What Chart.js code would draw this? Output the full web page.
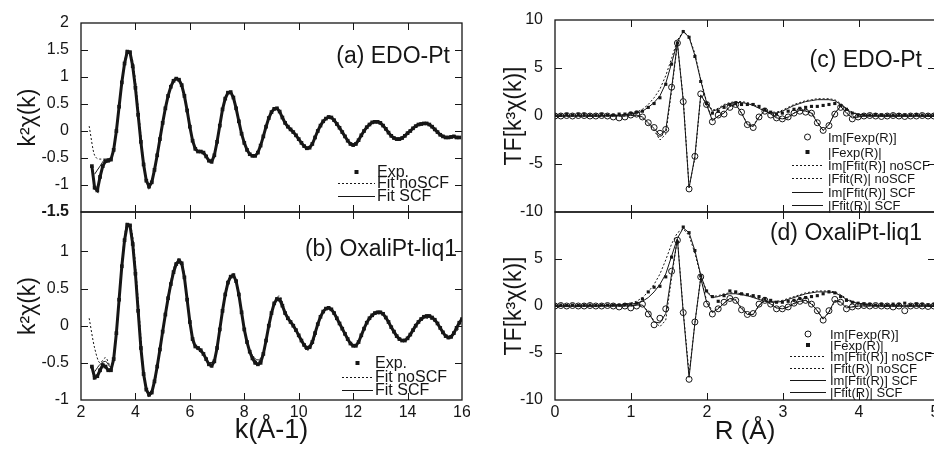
<!DOCTYPE html>
<html>
<head>
<meta charset="utf-8">
<title>EXAFS spectra and Fourier transforms</title>
<script src="https://cdn.jsdelivr.net/npm/chart.js@4.4.1/dist/chart.umd.min.js"></script>
<style>
  html, body { margin: 0; padding: 0; background: #fff; }
  body { position: relative; width: 934px; height: 449px; overflow: hidden; }
  canvas { position: absolute; top: 0; }
  #chartA, #chartB { left: 0; }
  #chartC, #chartD { left: 470px; }
</style>
</head>
<body>
<canvas id="chartA" width="470" height="449"></canvas>
<canvas id="chartB" width="470" height="449"></canvas>
<canvas id="chartC" width="470" height="449"></canvas>
<canvas id="chartD" width="470" height="449"></canvas>
<script>
// ─── Sampling grids ─────────────────────────────────────────────────────────
const K_EXP_START = 2.4, K_EXP_STEP = 0.1;
const K_FIT_START = 2.3, K_FIT_STEP = 0.2;
const R_START = 0,       R_STEP = 0.0767;

// ─── Tick values ────────────────────────────────────────────────────────────
const K_TICKS   = [2, 4, 6, 8, 10, 12, 14, 16];
const R_TICKS   = [0, 1, 2, 3, 4, 5];
const Y_TICKS_A = [-1.5, -1, -0.5, 0, 0.5, 1, 1.5, 2];
const Y_TICKS_B = [-1, -0.5, 0, 0.5, 1];
const Y_TICKS_C = [-10, -5, 0, 5, 10];
const Y_TICKS_D = [-10, -5, 0, 5];

// ─── (a) EDO-Pt, k-space ────────────────────────────────────────────────────
const EXP_A = [
  -0.65, -1.05, -1.1, -0.85, -0.65, -0.56, -0.55, -0.53, -0.35, 0.0,
  0.45, 0.9, 1.25, 1.47, 1.46, 1.2, 0.8, 0.3, -0.2, -0.62,
  -0.92, -1.03, -0.95, -0.72, -0.45, -0.15, 0.15, 0.42, 0.65, 0.82,
  0.93, 0.97, 0.95, 0.85, 0.65, 0.38, 0.08, -0.18, -0.33, -0.38,
  -0.38, -0.4, -0.47, -0.55, -0.57, -0.45, -0.2, 0.1, 0.4, 0.6,
  0.71, 0.72, 0.62, 0.42, 0.18, -0.05, -0.22, -0.35, -0.43, -0.46,
  -0.46, -0.4, -0.27, -0.1, 0.08, 0.24, 0.35, 0.41, 0.42, 0.36,
  0.25, 0.15, 0.08, 0.03, -0.02, -0.08, -0.15, -0.22, -0.28, -0.32,
  -0.31, -0.24, -0.12, 0.0, 0.1, 0.18, 0.23, 0.26, 0.25, 0.2,
  0.13, 0.06, -0.02, -0.1, -0.18, -0.24, -0.26, -0.24, -0.17, -0.08,
  0.0, 0.07, 0.12, 0.16, 0.17, 0.17, 0.15, 0.1, 0.04, -0.03,
  -0.09, -0.13, -0.15, -0.15, -0.13, -0.09, -0.04, 0.0, 0.05, 0.09,
  0.12, 0.13, 0.14, 0.14, 0.12, 0.08, 0.03, -0.02, -0.07, -0.1,
  -0.12, -0.12, -0.11, -0.1, -0.12, -0.12
];
const NOSCF_A = [
  0.09, -0.45, -0.52, -0.52, -0.5, 0.0, 0.85, 1.45, 1.3, 0.45,
  -0.55, -1.02, -0.75, -0.15, 0.42, 0.82, 0.97, 0.86, 0.4, -0.15,
  -0.37, -0.42, -0.55, -0.45, 0.1, 0.6, 0.72, 0.44, -0.03, -0.34,
  -0.46, -0.4, -0.1, 0.24, 0.41, 0.36, 0.15, 0.03, -0.08, -0.22,
  -0.33, -0.25, 0.0, 0.18, 0.26, 0.2, 0.06, -0.1, -0.24, -0.25,
  -0.09, 0.07, 0.16, 0.17, 0.1, -0.03, -0.13, -0.16, -0.1, 0.0,
  0.09, 0.13, 0.13, 0.08, -0.02, -0.1, -0.12, -0.1, -0.13
];
const SCF_A = [
  null, -0.8, -0.65, -0.52, -0.5, 0.0, 0.88, 1.47, 1.22, 0.32,
  -0.6, -1.02, -0.72, -0.15, 0.42, 0.82, 0.97, 0.85, 0.38, -0.17,
  -0.38, -0.41, -0.55, -0.44, 0.1, 0.6, 0.72, 0.42, -0.05, -0.35,
  -0.46, -0.4, -0.1, 0.24, 0.41, 0.36, 0.15, 0.03, -0.08, -0.22,
  -0.32, -0.24, 0.0, 0.18, 0.26, 0.2, 0.06, -0.1, -0.24, -0.24,
  -0.08, 0.07, 0.16, 0.17, 0.1, -0.03, -0.13, -0.15, -0.09, 0.0,
  0.09, 0.13, 0.14, 0.08, -0.02, -0.1, -0.12, -0.1, -0.12
];

// ─── (b) OxaliPt-liq1, k-space ──────────────────────────────────────────────
const EXP_B = [
  -0.55, -0.7, -0.68, -0.6, -0.53, -0.55, -0.6, -0.6, -0.45, -0.1,
  0.35, 0.8, 1.15, 1.36, 1.35, 1.1, 0.7, 0.2, -0.3, -0.65,
  -0.86, -0.93, -0.9, -0.75, -0.55, -0.32, -0.08, 0.15, 0.37, 0.56,
  0.72, 0.83, 0.88, 0.84, 0.65, 0.35, 0.05, -0.18, -0.28, -0.3,
  -0.33, -0.38, -0.45, -0.52, -0.54, -0.48, -0.3, -0.05, 0.2, 0.42,
  0.58, 0.66, 0.68, 0.6, 0.42, 0.18, -0.05, -0.22, -0.35, -0.44,
  -0.5, -0.52, -0.5, -0.38, -0.2, 0.0, 0.17, 0.3, 0.36, 0.35,
  0.27, 0.17, 0.1, 0.05, 0.0, -0.06, -0.13, -0.2, -0.26, -0.3,
  -0.29, -0.22, -0.1, 0.02, 0.12, 0.19, 0.23, 0.24, 0.22, 0.17,
  0.1, 0.03, -0.04, -0.11, -0.18, -0.24, -0.27, -0.27, -0.22, -0.13,
  -0.04, 0.04, 0.1, 0.14, 0.17, 0.18, 0.18, 0.16, 0.11, 0.05,
  -0.02, -0.08, -0.14, -0.18, -0.2, -0.2, -0.17, -0.12, -0.06, 0.0,
  0.05, 0.09, 0.12, 0.13, 0.13, 0.11, 0.08, 0.03, -0.03, -0.09,
  -0.14, -0.16, -0.15, -0.1, -0.03, 0.04, 0.09
];
const NOSCF_B = [
  0.1, -0.3, -0.5, -0.43, -0.55, -0.1, 0.85, 1.37, 1.2, 0.35,
  -0.6, -0.92, -0.78, -0.35, 0.17, 0.6, 0.85, 0.85, 0.35, -0.2,
  -0.33, -0.38, -0.5, -0.45, -0.03, 0.44, 0.66, 0.6, 0.18, -0.22,
  -0.42, -0.48, -0.36, 0.02, 0.32, 0.4, 0.2, 0.06, -0.07, -0.22,
  -0.33, -0.26, 0.0, 0.18, 0.23, 0.16, 0.02, -0.12, -0.24, -0.26,
  -0.12, 0.04, 0.13, 0.16, 0.15, 0.04, -0.1, -0.19, -0.18, -0.1,
  0.02, 0.08, 0.1, 0.08, 0.02, -0.09, -0.14, -0.1, -0.04
];
const SCF_B = [
  null, -0.62, -0.52, -0.48, -0.56, -0.08, 0.82, 1.36, 1.12, 0.22,
  -0.65, -0.93, -0.76, -0.32, 0.16, 0.57, 0.84, 0.84, 0.36, -0.18,
  -0.31, -0.38, -0.5, -0.46, -0.05, 0.43, 0.66, 0.6, 0.18, -0.21,
  -0.4, -0.46, -0.36, 0.0, 0.3, 0.37, 0.18, 0.05, -0.06, -0.2,
  -0.31, -0.24, 0.01, 0.19, 0.24, 0.17, 0.03, -0.11, -0.24, -0.27,
  -0.13, 0.04, 0.14, 0.18, 0.16, 0.05, -0.08, -0.18, -0.2, -0.12,
  0.0, 0.09, 0.13, 0.11, 0.03, -0.09, -0.16, -0.1, 0.03
];

// ─── (c) EDO-Pt, R-space ────────────────────────────────────────────────────
const IM_EXP_C = [
  0.0, 0.0, 0.05, 0.0, 0.05, 0.05, 0.0, 0.0, 0.05, 0.0,
  -0.1, -0.2, -0.1, 0.1, 0.2, -0.1, -0.7, -1.2, -1.8, -1.4,
  3.0, 7.6, 1.5, -7.6, -4.2, 2.3, 1.2, -0.6, 0.1, 0.2,
  0.9, 1.2, 0.4, -0.9, -1.2, -0.1, 0.5, 0.1, -0.2, -0.3,
  -0.1, 0.3, 0.5, 0.4, 0.3, -0.7, -1.5, -1.0, 0.2, 0.9,
  0.3, -0.3, -0.1, 0.0, 0.05, 0.0, -0.05, 0.0, 0.05, 0.0,
  -0.05, 0.0, 0.0, 0.05, 0.0, 0.0
];
const ABS_EXP_C = [
  0.1, 0.1, 0.15, 0.1, 0.15, 0.15, 0.1, 0.1, 0.15, 0.1,
  0.1, 0.2, 0.2, 0.3, 0.4, 0.5, 0.9, 1.3, 1.9, 3.3,
  5.4, 7.6, 8.8, 8.2, 6.2, 3.6, 1.3, 0.3, 0.5, 0.9,
  1.2, 1.3, 1.2, 1.2, 1.2, 1.0, 0.7, 0.4, 0.2, 0.3,
  0.5, 0.7, 0.8, 0.9, 1.0, 1.0, 1.1, 1.2, 1.3, 1.1,
  0.7, 0.3, 0.1, 0.1, 0.1, 0.15, 0.1, 0.1, 0.1, 0.15,
  0.1, 0.1, 0.15, 0.1, 0.1, 0.1
];
const IM_NOSCF_C = [
  0, 0, 0, 0, 0, 0, 0, 0, 0, 0,
  0, 0, 0, 0.05, 0.1, -0.2, -0.8, -1.5, -2.5, -1.9,
  2.6, 7.5, 1.8, -7.4, -4.4, 2.1, 1.3, -0.4, 0.0, 0.3,
  1.0, 1.3, 0.3, -0.8, -1.0, -0.1, 0.6, 0.2, -0.1, -0.3,
  -0.2, 0.3, 0.6, 0.6, 0.4, -0.6, -1.5, -0.9, 0.3, 1.0,
  0.4, -0.2, -0.1, 0, 0, 0, 0, 0, 0, 0,
  0, 0, 0, 0, 0, 0
];
const ABS_NOSCF_C = [
  0, 0, 0, 0, 0, 0, 0, 0, 0, 0.05,
  0.05, 0.1, 0.15, 0.2, 0.4, 0.7, 1.2, 1.9, 2.8, 4.2,
  6.0, 7.9, 8.8, 8.3, 6.5, 3.8, 1.5, 0.6, 0.8, 1.2,
  1.4, 1.5, 1.5, 1.4, 1.2, 0.9, 0.6, 0.4, 0.4, 0.6,
  0.9, 1.2, 1.4, 1.6, 1.7, 1.8, 1.8, 1.8, 1.7, 1.3,
  0.8, 0.4, 0.2, 0.1, 0.05, 0, 0, 0, 0, 0,
  0, 0, 0, 0, 0, 0
];
const IM_SCF_C = [
  0, 0, 0, 0, 0, 0, 0, 0, 0, 0,
  0, 0, 0, 0.05, 0.1, -0.1, -0.7, -1.3, -2.0, -1.5,
  2.9, 7.6, 1.6, -7.5, -4.2, 2.2, 1.2, -0.5, 0.0, 0.3,
  1.0, 1.2, 0.3, -0.9, -1.1, -0.1, 0.6, 0.2, -0.2, -0.3,
  -0.1, 0.3, 0.6, 0.5, 0.3, -0.7, -1.5, -0.9, 0.3, 1.0,
  0.3, -0.2, -0.1, 0, 0, 0, 0, 0, 0, 0,
  0, 0, 0, 0, 0, 0
];
const ABS_SCF_C = [
  0, 0, 0, 0, 0, 0, 0, 0, 0, 0.05,
  0.05, 0.1, 0.15, 0.2, 0.3, 0.5, 0.9, 1.4, 2.1, 3.4,
  5.5, 7.7, 8.8, 8.2, 6.3, 3.7, 1.4, 0.5, 0.7, 1.1,
  1.3, 1.4, 1.4, 1.3, 1.1, 0.8, 0.5, 0.3, 0.3, 0.5,
  0.8, 1.1, 1.3, 1.5, 1.6, 1.7, 1.7, 1.7, 1.6, 1.2,
  0.7, 0.3, 0.2, 0.1, 0.05, 0, 0, 0, 0, 0,
  0, 0, 0, 0, 0, 0
];

// ─── (d) OxaliPt-liq1, R-space ──────────────────────────────────────────────
const IM_EXP_D = [
  0.0, 0.05, 0.0, 0.05, 0.0, 0.0, 0.05, 0.0, 0.0, 0.05,
  0.0, -0.1, 0.0, -0.2, 0.0, 0.2, -0.85, -2.0, -1.3, -0.3,
  3.7, 7.0, -0.7, -7.8, -1.7, 3.1, 0.2, -0.85, -0.3, 0.4,
  0.8, 0.6, -0.4, -0.9, -0.8, 0.2, 0.6, 0.2, -0.3, -0.3,
  -0.1, 0.3, 0.5, 0.6, 0.2, -0.5, -1.5, -0.5, 0.7, 0.4,
  -0.3, -0.1, 0.0, 0.05, 0.0, 0.05, 0.0, 0.0, -0.1, 0.0,
  -0.5, 0.0, 0.05, 0.0, -0.05, 0.0
];
const ABS_EXP_D = [
  0.05, 0.1, 0.05, 0.1, 0.05, 0.1, 0.1, 0.05, 0.1, 0.1,
  0.1, 0.1, 0.15, 0.2, 0.3, 0.75, 1.5, 2.0, 2.1, 3.1,
  5.2, 6.8, 8.4, 7.8, 5.9, 3.2, 1.6, 1.0, 0.5, 1.1,
  1.6, 1.5, 1.3, 1.2, 1.1, 1.0, 0.8, 0.6, 0.4, 0.4,
  0.5, 0.6, 0.8, 0.9, 1.0, 1.1, 1.3, 1.5, 1.4, 1.0,
  0.6, 0.4, 0.3, 0.2, 0.2, 0.1, 0.2, 0.1, 0.2, 0.2,
  0.3, 0.1, 0.2, 0.2, 0.1, 0.2
];
const IM_NOSCF_D = [
  0, 0, 0, 0, 0, 0, 0, 0, 0, 0,
  0, 0, 0, 0.0, 0.1, 0.1, -0.6, -1.6, -2.2, -1.5,
  3.0, 7.2, -0.5, -7.3, -1.8, 3.0, 0.6, -0.6, -0.2, 0.3,
  0.8, 0.7, -0.2, -0.8, -0.9, 0.0, 0.6, 0.3, -0.2, -0.3,
  -0.1, 0.2, 0.5, 0.6, 0.3, -0.5, -1.4, -0.7, 0.5, 0.5,
  -0.1, -0.1, 0.0, 0, 0, 0, 0, 0, 0, 0,
  0, 0, 0, 0, 0, 0
];
const ABS_NOSCF_D = [
  0, 0, 0, 0, 0, 0, 0, 0, 0.05, 0.05,
  0.1, 0.1, 0.2, 0.3, 0.5, 0.9, 1.5, 2.3, 3.4, 4.9,
  6.6, 7.8, 8.2, 7.5, 5.6, 3.2, 1.6, 1.0, 1.1, 1.3,
  1.4, 1.4, 1.3, 1.2, 1.0, 0.8, 0.6, 0.5, 0.5, 0.6,
  0.8, 1.0, 1.2, 1.4, 1.5, 1.6, 1.6, 1.6, 1.5, 1.2,
  0.8, 0.5, 0.3, 0.2, 0.1, 0.05, 0, 0, 0, 0,
  0, 0, 0, 0, 0, 0
];
const IM_SCF_D = [
  0, 0, 0, 0, 0, 0, 0, 0, 0, 0,
  0, 0, 0, 0.0, 0.1, 0.1, -0.7, -1.7, -1.8, -0.8,
  3.4, 7.1, -0.7, -7.6, -1.8, 3.0, 0.4, -0.7, -0.3, 0.3,
  0.8, 0.6, -0.3, -0.9, -0.9, 0.1, 0.6, 0.2, -0.2, -0.3,
  -0.1, 0.3, 0.5, 0.6, 0.2, -0.5, -1.4, -0.6, 0.6, 0.4,
  -0.2, -0.1, 0.0, 0, 0, 0, 0, 0, 0, 0,
  0, 0, 0, 0, 0, 0
];
const ABS_SCF_D = [
  0, 0, 0, 0, 0, 0, 0, 0, 0.05, 0.05,
  0.1, 0.1, 0.15, 0.2, 0.3, 0.5, 0.9, 1.5, 2.3, 3.4,
  5.3, 7.2, 8.3, 7.8, 5.9, 3.3, 1.5, 0.9, 1.0, 1.2,
  1.3, 1.3, 1.2, 1.1, 0.9, 0.7, 0.5, 0.4, 0.4, 0.5,
  0.7, 0.9, 1.1, 1.3, 1.4, 1.5, 1.5, 1.5, 1.4, 1.1,
  0.7, 0.4, 0.3, 0.2, 0.1, 0.05, 0, 0, 0, 0,
  0, 0, 0, 0, 0, 0
];

// ─── Styling ────────────────────────────────────────────────────────────────
const FONT = "'Liberation Sans', Arial, Helvetica, sans-serif";
const INK  = "#161616";

// ─── Helpers ────────────────────────────────────────────────────────────────
function grid(start, step, n) {
  return Array.from({ length: n }, (_, i) => +(start + i * step).toFixed(4));
}

function pts(xs, ys) {
  return ys.map((y, i) => ({ x: xs[i], y }));
}

// dense experimental k-space points: squares joined into a thick band
function expBand(label, xs, ys) {
  return { label, data: pts(xs, ys), showLine: true, borderColor: INK, borderWidth: 3,
           pointStyle: "rect", pointRadius: 2.6, backgroundColor: INK,
           pointBorderWidth: 0, tension: 0 };
}

function expSquares(label, xs, ys, r) {
  return { label, data: pts(xs, ys), showLine: false, pointStyle: "rect",
           pointRadius: r, backgroundColor: INK, borderWidth: 0 };
}

function expCircles(label, xs, ys) {
  return { label, data: pts(xs, ys), showLine: false, pointStyle: "circle",
           pointRadius: 3, borderColor: INK, borderWidth: 1,
           backgroundColor: "rgba(255,255,255,0)" };
}

function fitLine(label, xs, ys, dotted, smooth) {
  return { label, data: pts(xs, ys), borderColor: INK, borderWidth: 1,
           borderDash: dotted ? [2, 2] : [], pointRadius: 0, fill: false,
           cubicInterpolationMode: smooth ? "monotone" : "default", tension: 0 };
}

// Frame, inward ticks, panel label and legend
const panelDecor = {
  id: "panelDecor",
  afterDraw(chart, args, o) {
    const { ctx, chartArea: a } = chart;
    const xs = chart.scales.x, ys = chart.scales.y;
    ctx.save();
    ctx.strokeStyle = INK;
    ctx.lineWidth = 1.3;
    ctx.strokeRect(a.left, a.top, a.right - a.left, a.bottom - a.top);

    ctx.lineWidth = 1;
    ctx.beginPath();
    o.xTicks.forEach(v => {
      const px = Math.round(xs.getPixelForValue(v)) + 0.5;
      if (px <= a.left + 2 || px >= a.right - 2) return;
      ctx.moveTo(px, a.bottom); ctx.lineTo(px, a.bottom - 7);
      ctx.moveTo(px, a.top);    ctx.lineTo(px, a.top + 7);
    });
    o.yTicks.forEach(v => {
      const py = Math.round(ys.getPixelForValue(v)) + 0.5;
      if (py <= a.top + 2 || py >= a.bottom - 2) return;
      ctx.moveTo(a.left, py);  ctx.lineTo(a.left + 7, py);
      ctx.moveTo(a.right, py); ctx.lineTo(a.right - 7, py);
    });
    ctx.stroke();

    // panel label
    ctx.fillStyle = INK;
    ctx.font = `23px ${FONT}`;
    ctx.textAlign = "right";
    ctx.textBaseline = "middle";
    ctx.fillText(o.label, a.right - o.labelDx, a.top + o.labelDy);

    // legend, labels taken from the datasets
    ctx.font = `${o.legendSize}px ${FONT}`;
    ctx.textAlign = "left";
    const x0 = a.right - o.sample[0], x1 = a.right - o.sample[1], tx = a.right - o.sample[2];
    chart.data.datasets.forEach((ds, i) => {
      const y = a.bottom - o.rows[i];
      const kind = o.kinds[i];
      const cx = (x0 + x1) / 2;
      if (kind === "square") {
        ctx.fillRect(cx - 2, y - 2, 4, 4);
      } else if (kind === "circle") {
        ctx.beginPath(); ctx.arc(cx, y, 3, 0, Math.PI * 2); ctx.stroke();
      } else {
        ctx.setLineDash(kind === "dotted" ? [2, 2] : []);
        ctx.beginPath(); ctx.moveTo(x0, y + 0.5); ctx.lineTo(x1, y + 0.5); ctx.stroke();
        ctx.setLineDash([]);
      }
      ctx.fillText(ds.label, tx, y + 1);
    });
    ctx.restore();
  }
};

function buildPanel(id, p) {
  const tickFont = ctx => ({ family: FONT, size: 16,
    weight: ctx.tick && ctx.tick.value === -1.5 ? "bold" : "normal" });
  return new Chart(document.getElementById(id), {
    type: "line",
    data: { datasets: p.datasets },
    options: {
      responsive: false,
      animation: false,
      events: [],
      layout: { padding: p.padding },
      plugins: {
        legend: { display: false },
        tooltip: { enabled: false },
        panelDecor: p.decor,
      },
      scales: {
        x: {
          type: "linear",
          min: p.xMin, max: p.xMax,
          display: p.showX,
          afterBuildTicks: s => { s.ticks = p.decor.xTicks.map(v => ({ value: v })); },
          afterFit: s => {
            if (p.showX) s.height = 49;
            s.paddingLeft = 0; s.paddingRight = 0;
          },
          grid: { display: false, drawTicks: false },
          border: { display: false },
          ticks: { color: INK, font: { family: FONT, size: 16 }, padding: 3,
                   maxRotation: 0, autoSkip: false, callback: v => String(v) },
          title: { display: p.showX, text: p.xTitle, color: INK,
                   font: { family: FONT, size: p.xTitleSize }, padding: { top: 0, bottom: 2 } },
        },
        y: {
          type: "linear",
          min: p.yMin, max: p.yMax,
          afterBuildTicks: s => { s.ticks = p.decor.yTicks.map(v => ({ value: v })); },
          afterFit: s => { s.width = p.yWidth; s.paddingTop = 0; s.paddingBottom = 0; },
          grid: { display: false, drawTicks: false },
          border: { display: false },
          ticks: { color: INK, font: tickFont, padding: 12, autoSkip: false,
                   callback: v => String(v) },
          title: { display: true, text: p.yTitle, color: INK,
                   font: { family: FONT, size: 23 }, padding: { top: p.yTitlePad, bottom: 0 } },
        },
      },
    },
    plugins: [panelDecor],
  });
}

// ─── Build the four panels ──────────────────────────────────────────────────
const K_EXP_A = grid(K_EXP_START, K_EXP_STEP, EXP_A.length);
const K_EXP_B = grid(K_EXP_START, K_EXP_STEP, EXP_B.length);
const K_FIT   = grid(K_FIT_START, K_FIT_STEP, NOSCF_A.length);
const R_GRID  = grid(R_START, R_STEP, IM_EXP_C.length);

const K_KINDS = ["square", "dotted", "solid"];
const R_KINDS = ["circle", "square", "dotted", "dotted", "solid", "solid"];

buildPanel("chartA", {
  padding: { left: 0, top: 23, right: 8, bottom: 237 },
  showX: false, xMin: 2, xMax: 16, xTitle: "k(Å-1)", xTitleSize: 27,
  yMin: -1.5, yMax: 2, yWidth: 81, yTitle: "k²χ(k)", yTitlePad: 15,
  datasets: [
    expBand("Exp.", K_EXP_A, EXP_A),
    fitLine("Fit noSCF", K_FIT, NOSCF_A, true, true),
    fitLine("Fit SCF", K_FIT, SCF_A, false, true),
  ],
  decor: { xTicks: K_TICKS, yTicks: Y_TICKS_A, label: "(a) EDO-Pt", labelDx: 12, labelDy: 34,
           legendSize: 16, rows: [40, 29, 16], sample: [124, 87, 85], kinds: K_KINDS },
});

buildPanel("chartB", {
  padding: { left: 0, top: 212, right: 8, bottom: 0 },
  showX: true, xMin: 2, xMax: 16, xTitle: "k(Å-1)", xTitleSize: 27,
  yMin: -1, yMax: 1.53, yWidth: 81, yTitle: "k²χ(k)", yTitlePad: 15,
  datasets: [
    expBand("Exp.", K_EXP_B, EXP_B),
    fitLine("Fit noSCF", K_FIT, NOSCF_B, true, true),
    fitLine("Fit SCF", K_FIT, SCF_B, false, true),
  ],
  decor: { xTicks: K_TICKS, yTicks: Y_TICKS_B, label: "(b) OxaliPt-liq1", labelDx: 5, labelDy: 38,
           legendSize: 16, rows: [37, 23, 10], sample: [120, 89, 87], kinds: K_KINDS },
});

buildPanel("chartC", {
  padding: { left: 0, top: 20, right: 5, bottom: 237 },
  showX: false, xMin: 0, xMax: 5, xTitle: "R (Å)", xTitleSize: 26,
  yMin: -10, yMax: 10, yWidth: 85, yTitle: "TF[k³χ(k)]", yTitlePad: 31,
  datasets: [
    expCircles("Im[Fexp(R)]", R_GRID, IM_EXP_C),
    expSquares("|Fexp(R)|", R_GRID, ABS_EXP_C, 2.2),
    fitLine("Im[Ffit(R)] noSCF", R_GRID, IM_NOSCF_C, true, false),
    fitLine("|Ffit(R)| noSCF", R_GRID, ABS_NOSCF_C, true, false),
    fitLine("Im[Ffit(R)] SCF", R_GRID, IM_SCF_C, false, false),
    fitLine("|Ffit(R)| SCF", R_GRID, ABS_SCF_C, false, false),
  ],
  decor: { xTicks: R_TICKS, yTicks: Y_TICKS_C, label: "(c) EDO-Pt", labelDx: 13, labelDy: 41,
           legendSize: 13, rows: [75, 60, 47, 34, 20, 7], sample: [143, 112, 107], kinds: R_KINDS },
});

buildPanel("chartD", {
  padding: { left: 0, top: 212, right: 5, bottom: 0 },
  showX: true, xMin: 0, xMax: 5, xTitle: "R (Å)", xTitleSize: 26,
  yMin: -10, yMax: 10, yWidth: 85, yTitle: "TF[k³χ(k)]", yTitlePad: 31,
  datasets: [
    expCircles("Im[Fexp(R)]", R_GRID, IM_EXP_D),
    expSquares("|Fexp(R)|", R_GRID, ABS_EXP_D, 2.2),
    fitLine("Im[Ffit(R)] noSCF", R_GRID, IM_NOSCF_D, true, false),
    fitLine("|Ffit(R)| noSCF", R_GRID, ABS_NOSCF_D, true, false),
    fitLine("Im[Ffit(R)] SCF", R_GRID, IM_SCF_D, false, false),
    fitLine("|Ffit(R)| SCF", R_GRID, ABS_SCF_D, false, false),
  ],
  decor: { xTicks: R_TICKS, yTicks: Y_TICKS_D, label: "(d) OxaliPt-liq1", labelDx: 13, labelDy: 22,
           legendSize: 13, rows: [66, 55, 44, 32, 20, 8], sample: [145, 109, 105], kinds: R_KINDS },
});
</script>
</body>
</html>
